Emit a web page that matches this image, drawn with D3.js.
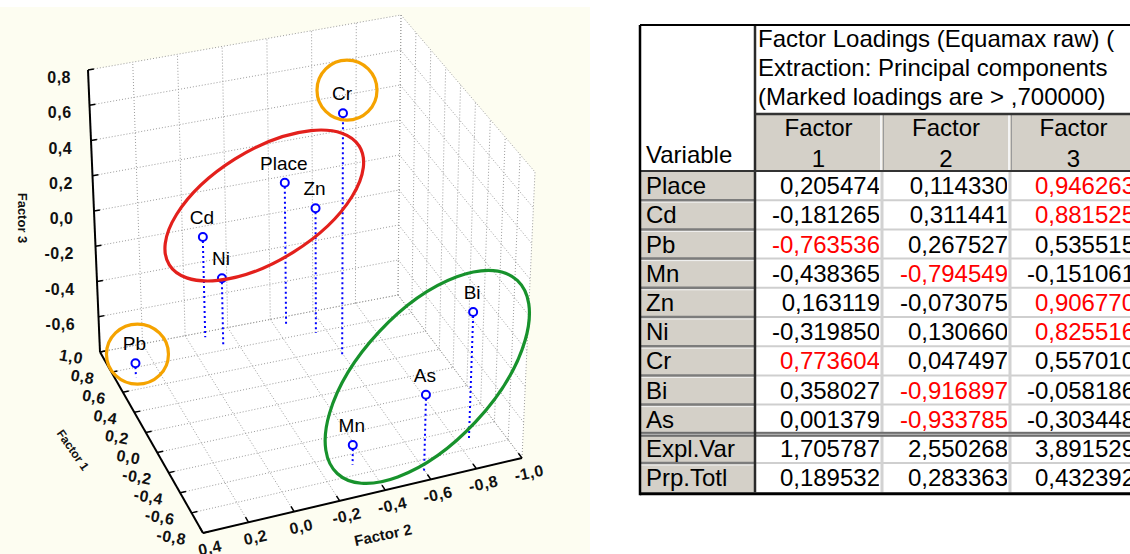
<!DOCTYPE html>
<html>
<head>
<meta charset="utf-8">
<script src="https://cdn.jsdelivr.net/npm/d3@7/dist/d3.min.js"></script>
<style>
  html, body { margin: 0; padding: 0; background: #ffffff; }
  svg { display: block; }
</style>
</head>
<body>
<svg id="chart" width="1130" height="554"></svg>
<script>
// ---- 3D scatter: variable loadings on the three factors ----
const plotNames = ["Place", "Cd", "Pb", "Mn", "Zn", "Ni", "Cr", "Bi", "As"];
const plotF1 = [0.92, 0.95, 0.71, -0.50, 0.79, 0.83, 0.52, -0.52, -0.73];
const plotF2 = [-0.45, -0.08, 0.31, -0.34, -0.55, -0.13, -0.59, -0.85, -0.59];
const plotF3 = [0.01, -0.23, -0.72, -0.69, -0.09, -0.41, 0.58, -0.08, -0.36];

const f1Ticks = [1.0, 0.8, 0.6, 0.4, 0.2, 0.0, -0.2, -0.4, -0.6, -0.8];
const f2Ticks = [0.4, 0.2, 0.0, -0.2, -0.4, -0.6, -0.8, -1.0];
const f3Ticks = [0.8, 0.6, 0.4, 0.2, 0.0, -0.2, -0.4, -0.6, -0.8];
const f3Labels = [0.8, 0.6, 0.4, 0.2, 0.0, -0.2, -0.4, -0.6];

// Hand-drawn groupings around the points
const ringGroups = [
  { members: ["Cd", "Ni", "Place", "Zn"], color: "#e3201c" },
  { members: ["Mn", "As", "Bi"], color: "#17922c" },
  { members: ["Cr"], color: "#f5a300" },
  { members: ["Pb"], color: "#f5a300" }
];

// ---- Factor loadings table ----
const tableTitle = ["Factor Loadings (Equamax raw) (", "Extraction: Principal components", "(Marked loadings are > ,700000)"];
const tableFactors = ["1", "2", "3"];
const tableVars = ["Place", "Cd", "Pb", "Mn", "Zn", "Ni", "Cr", "Bi", "As"];
const loadF1 = [0.205474, -0.181265, -0.763536, -0.438365, 0.163119, -0.319850, 0.773604, 0.358027, 0.001379];
const loadF2 = [0.114330, 0.311441, 0.267527, -0.794549, -0.073075, 0.130660, 0.047497, -0.916897, -0.933785];
const loadF3 = [0.946263, 0.881525, 0.535515, -0.151061, 0.906770, 0.825516, 0.557010, -0.058186, -0.303448];
const summaryNames = ["Expl.Var", "Prp.Totl"];
const explVar = [1.705787, 2.550268, 3.891529];
const prpTotl = [0.189532, 0.283363, 0.432392];
const markLimit = 0.7;

const locale = d3.formatLocale({ decimal: ",", thousands: "\u00a0", grouping: [3], currency: ["", ""], minus: "-" });
const fmt6 = locale.format(".6f");
const fmt1 = locale.format(".1f");

const svg = d3.select("#chart");
const FONT = "'Liberation Sans', Arial, sans-serif";

// ---- plot panel ----
svg.append("rect").attr("x", 0).attr("y", 7).attr("width", 590).attr("height", 547).attr("fill", "#fdfdf1");

// Screen corners of the plot box, keyed by (u, v, w) = (Factor 2, Factor 1, Factor 3) ends
const boxCorners = {
  "000": [100, 352], "100": [398, 295], "010": [203, 533], "110": [522, 458],
  "001": [88, 70],   "101": [401, 15],  "011": [197, 245], "111": [535, 172]
};
function project(u, v, w) {
  let x = 0, y = 0;
  for (const a of [0, 1]) for (const b of [0, 1]) for (const c of [0, 1]) {
    const wt = (a ? u : 1 - u) * (b ? v : 1 - v) * (c ? w : 1 - w);
    const p = boxCorners["" + a + b + c];
    x += wt * p[0]; y += wt * p[1];
  }
  return [x, y];
}
const su = d3.scaleLinear().domain([0.4, -1.0]).range([0, 1]);   // Factor 2
const sv = d3.scaleLinear().domain([1.0, -0.8]).range([0, 1]);   // Factor 1
const sw = d3.scaleLinear().domain([-0.8, 0.8]).range([0, 1]);   // Factor 3
const P = (f1, f2, f3) => project(su(f2), sv(f1), sw(f3));

const plot = svg.append("g");
const poly = pts => "M" + pts.map(p => p[0].toFixed(2) + "," + p[1].toFixed(2)).join("L") + "Z";

// walls and floor
[[project(0,0,0), project(1,0,0), project(1,0,1), project(0,0,1)],
 [project(1,0,0), project(1,1,0), project(1,1,1), project(1,0,1)],
 [project(0,0,0), project(1,0,0), project(1,1,0), project(0,1,0)]]
  .forEach(f => plot.append("path").attr("d", poly(f)).attr("fill", "#ffffff"));

// dotted grid
const grid = plot.append("g").attr("stroke", "#9c9c9c").attr("stroke-width", 1).attr("stroke-dasharray", "1,2").attr("fill", "none");
const seg = (gg, a, b) => gg.append("line").attr("x1", a[0]).attr("y1", a[1]).attr("x2", b[0]).attr("y2", b[1]);
f3Ticks.forEach(t => { const w = sw(t); seg(grid, project(0,0,w), project(1,0,w)); seg(grid, project(1,0,w), project(1,1,w)); });
f2Ticks.forEach(t => { const u = su(t); seg(grid, project(u,0,0), project(u,0,1)); seg(grid, project(u,0,0), project(u,1,0)); });
f1Ticks.forEach(t => { const v = sv(t); seg(grid, project(1,v,0), project(1,v,1)); seg(grid, project(0,v,0), project(1,v,0)); });

// solid axes with ticks
const axes = plot.append("g").attr("stroke", "#000").attr("stroke-width", 2).attr("fill", "none");
seg(axes, project(0,0,0), project(0,0,1));
seg(axes, project(0,0,0), project(0,1,0));
seg(axes, project(0,1,0), project(1,1,0));
function unit(a, b) { const dx = b[0] - a[0], dy = b[1] - a[1], l = Math.hypot(dx, dy); return [dx / l, dy / l]; }
const TL = 6;
const tickG = plot.append("g").attr("stroke", "#000").attr("stroke-width", 1.5);
f3Ticks.forEach(t => {
  const w = sw(t), p = project(0,0,w), d = unit(p, project(1,0,w));
  seg(tickG, p, [p[0] + d[0] * TL, p[1] + d[1] * TL]);
});
f1Ticks.forEach(t => {
  const v = sv(t), p = project(0,v,0), d = unit(p, project(1,v,0));
  seg(tickG, p, [p[0] + d[0] * TL, p[1] + d[1] * TL]);
});
f2Ticks.forEach(t => {
  const u = su(t), p = project(u,1,0), d = unit(p, project(u,0,0));
  seg(tickG, p, [p[0] + d[0] * TL, p[1] + d[1] * TL]);
});

// tick labels
const lab = plot.append("g").attr("font-family", FONT).attr("font-weight", "bold").attr("font-size", 16).attr("fill", "#111");
f3Labels.forEach(t => {
  const p = project(0, 0, sw(t));
  lab.append("text").attr("x", p[0] - 17 - 0.6 * (p[0] - boxCorners["001"][0])).attr("y", p[1] + 13)
    .attr("text-anchor", "end").attr("letter-spacing", 0.5).text(fmt1(t));
});
f1Ticks.forEach(t => {
  const p = project(0, sv(t), 0);
  lab.append("text").attr("x", p[0] - 17).attr("y", p[1] + 10).attr("text-anchor", "end")
    .attr("letter-spacing", 0.5).attr("transform", `rotate(10,${p[0] - 30},${p[1] + 5})`).text(fmt1(t));
});
f2Ticks.forEach(t => {
  const p = project(su(t), 1, 0), cx = p[0] + 7, cy = p[1] + 15;
  lab.append("text").attr("x", cx).attr("y", cy + 5.5).attr("text-anchor", "middle")
    .attr("letter-spacing", 0.5).attr("transform", `rotate(-12,${cx},${cy})`).text(fmt1(t));
});

// axis titles
const ttl = plot.append("g").attr("font-family", FONT).attr("font-weight", "bold").attr("fill", "#111").attr("text-anchor", "middle");
ttl.append("text").attr("font-size", 13).attr("transform", "translate(23,218) rotate(90)").attr("dy", "0.35em").text("Factor 3");
ttl.append("text").attr("font-size", 12).attr("transform", "translate(73,450) rotate(55)").attr("dy", "0.35em").text("Factor 1");
ttl.append("text").attr("font-size", 15).attr("transform", "translate(383,535) rotate(-12)").attr("dy", "0.35em").text("Factor 2");

// points with drop lines to the floor
const pts = plotNames.map((n, i) => ({
  name: n,
  p: P(plotF1[i], plotF2[i], plotF3[i]),
  base: P(plotF1[i], plotF2[i], -0.8)
}));
const marks = plot.append("g");
pts.forEach(d => {
  marks.append("line").attr("x1", d.p[0]).attr("y1", d.p[1] + 4).attr("x2", d.base[0]).attr("y2", d.base[1])
    .attr("stroke", "#0000ff").attr("stroke-width", 2).attr("stroke-dasharray", "2,3");
});
pts.forEach(d => {
  marks.append("circle").attr("cx", d.p[0]).attr("cy", d.p[1]).attr("r", 4)
    .attr("fill", "#ffffff").attr("stroke", "#0000ff").attr("stroke-width", 2);
  marks.append("text").attr("x", d.p[0] - 1).attr("y", d.p[1] - 13).attr("text-anchor", "middle")
    .attr("font-family", FONT).attr("font-size", 19).attr("fill", "#000").text(d.name);
});

// rings around the groups
const ringShape = {
  "Cd": { dx: 8, dy: -21, rx: 112, ry: 55, rot: -32 },
  "Mn": { dx: 10, dy: -7, rx: 132, ry: 66, rot: -47 },
  "Cr": { dx: 4, dy: -23, rx: 30, ry: 30, rot: 0 },
  "Pb": { dx: 2, dy: -9, rx: 31, ry: 30, rot: 0 }
};
ringGroups.forEach(gp => {
  const ps = gp.members.map(m => pts.find(d => d.name === m).p);
  const s = ringShape[gp.members[0]];
  const cx = d3.mean(ps, p => p[0]) + s.dx, cy = d3.mean(ps, p => p[1]) + s.dy;
  plot.append("ellipse").attr("cx", 0).attr("cy", 0).attr("rx", s.rx).attr("ry", s.ry)
    .attr("transform", `translate(${cx},${cy}) rotate(${s.rot})`)
    .attr("fill", "none").attr("stroke", gp.color).attr("stroke-width", 3.2);
});

// ---- table ----
const colX = [640, 755, 882, 1010, 1137];
const tTop = 25, tTitleB = 114, tHeadB = 171, rowH = 29.2;
const rowNames = tableVars.concat(summaryNames);
const cols = [loadF1, loadF2, loadF3].map((arr, c) => arr.concat([explVar[c], prpTotl[c]]));
const nRows = rowNames.length;
const tBottom = tHeadB + nRows * rowH;
const sepRow = tableVars.length;

const tb = svg.append("g").attr("font-family", FONT).attr("font-size", 24);
tb.append("rect").attr("x", colX[1]).attr("y", tTitleB).attr("width", colX[4] - colX[1]).attr("height", tHeadB - tTitleB).attr("fill", "#d4d0c8");
tb.append("rect").attr("x", colX[0]).attr("y", tHeadB).attr("width", colX[1] - colX[0]).attr("height", tBottom - tHeadB).attr("fill", "#d4d0c8");

const L = (x1, y1, x2, y2, col, w) => tb.append("line").attr("x1", x1).attr("y1", y1).attr("x2", x2).attr("y2", y2).attr("stroke", col).attr("stroke-width", w);
for (let i = 1; i < nRows; i++) {
  if (i === sepRow) continue;
  const y = tHeadB + i * rowH;
  L(colX[1], y, colX[4], y, "#cfcfcf", 2);
  L(colX[0], y, colX[1], y, "#7c7c7c", 2.5);
  L(colX[0], y + 2, colX[1], y + 2, "#f2f2f2", 1);
}
[colX[2], colX[3]].forEach(x => {
  L(x, tHeadB, x, tBottom, "#d2d2d2", 3);
  L(x - 1, tTitleB, x - 1, tHeadB, "#f4f4f4", 2);
  L(x + 1.5, tTitleB, x + 1.5, tHeadB, "#9a9a9a", 1);
});
const ySep = tHeadB + sepRow * rowH;
tb.append("rect").attr("x", colX[0]).attr("y", ySep - 2).attr("width", colX[4] - colX[0]).attr("height", 5).attr("fill", "#6e6e6e");
L(colX[0], ySep + 0.5, colX[4], ySep + 0.5, "#bdbdbd", 1);
L(colX[1], tTop, colX[1], tBottom, "#2a2a2a", 2.5);
L(colX[1], tTitleB, colX[4], tTitleB, "#333", 2.5);
L(colX[0], tHeadB, colX[4], tHeadB, "#333", 2);
L(colX[0], tTop, colX[4], tTop, "#000", 2);
L(colX[0], tTop, colX[0], tBottom + 3, "#000", 2.5);
L(colX[0], tBottom + 1.5, colX[4], tBottom + 1.5, "#000", 3);

// titles and headers
tableTitle.forEach((t, i) => tb.append("text").attr("x", 758).attr("y", 47 + i * 29).attr("fill", "#000").text(t));
tb.append("text").attr("x", 646).attr("y", 163).attr("fill", "#000").text("Variable");
tableFactors.forEach((f, c) => {
  const cx = (colX[c + 1] + colX[c + 2]) / 2;
  tb.append("text").attr("x", cx).attr("y", 136).attr("text-anchor", "middle").attr("fill", "#000").text("Factor");
  tb.append("text").attr("x", cx).attr("y", 167).attr("text-anchor", "middle").attr("fill", "#000").text(f);
});

// rows
const defs = svg.append("defs");
tableFactors.forEach((f, c) => {
  defs.append("clipPath").attr("id", "col" + c).append("rect")
    .attr("x", colX[c + 1] + 2).attr("y", tHeadB).attr("width", colX[c + 2] - colX[c + 1] - 5).attr("height", tBottom - tHeadB);
});
rowNames.forEach((r, i) => {
  const yb = tHeadB + i * rowH + rowH / 2 + 8.5;
  tb.append("text").attr("x", 646).attr("y", yb).attr("fill", "#000").text(r);
  cols.forEach((arr, c) => {
    const v = arr[i];
    const marked = i < sepRow && Math.abs(v) > markLimit;
    tb.append("text").attr("x", colX[c + 2] - 2).attr("y", yb).attr("text-anchor", "end")
      .attr("clip-path", `url(#col${c})`).attr("fill", marked ? "#ff0000" : "#000").text(fmt6(v));
  });
});
</script>
</body>
</html>
